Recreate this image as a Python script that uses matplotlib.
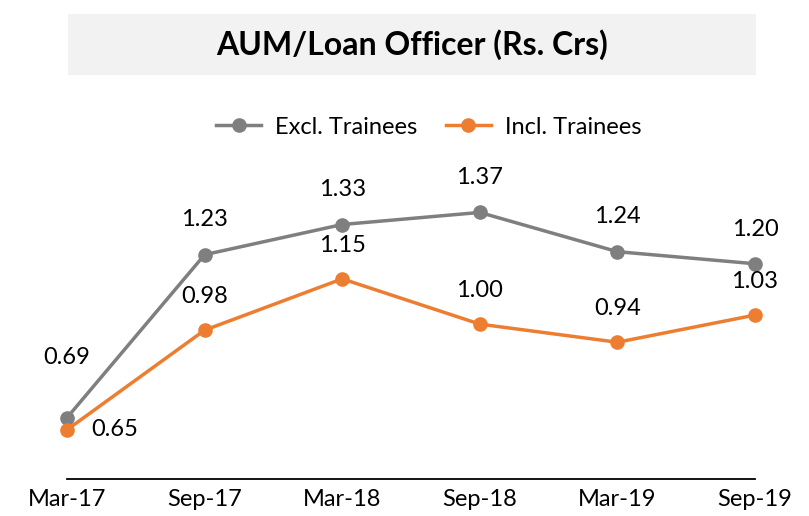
import matplotlib
matplotlib.use("Agg")
import matplotlib.pyplot as plt
from matplotlib.patches import Rectangle

plt.rcParams['font.family'] = ['Lato', 'DejaVu Sans']

categories = ["Mar-17", "Sep-17", "Mar-18", "Sep-18", "Mar-19", "Sep-19"]
excl = [0.69, 1.23, 1.33, 1.37, 1.24, 1.20]
incl = [0.65, 0.98, 1.15, 1.00, 0.94, 1.03]
title = "AUM/Loan Officer (Rs. Crs)"

W, H = 809, 516
fig = plt.figure(figsize=(W / 100, H / 100), dpi=100)

# title box
fig.patches.append(Rectangle((68 / W, 1 - 75 / H), (756 - 68) / W, (75 - 14) / H,
                             transform=fig.transFigure, facecolor="#F2F2F2",
                             edgecolor="none", zorder=0))
fig.text((68 + 756) / 2 / W, 1 - 45 / H, title, ha="center", va="center",
         fontsize=23, fontweight="bold", color="black")

left, right = 67 / W, 755 / W
bottom = 1 - 479 / H
top = 1 - 143 / H
ax = fig.add_axes([left, bottom, right - left, top - bottom])
ax.set_facecolor("none")

x = list(range(len(categories)))
gray = "#7F7F7F"
orange = "#ED7D31"
l1, = ax.plot(x, excl, color=gray, lw=2.5, marker="o", ms=9.5, label="Excl. Trainees",
              clip_on=False, zorder=3)
l2, = ax.plot(x, incl, color=orange, lw=2.5, marker="o", ms=9.5, label="Incl. Trainees",
              clip_on=False, zorder=4)

ax.set_xlim(0, 5)
ax.set_ylim(0.487, 1.6)
ax.set_xticks(x)
ax.set_xticklabels(categories, fontsize=17)
ax.tick_params(axis="x", length=0, pad=7)
ax.set_yticks([])
for s in ["top", "right", "left"]:
    ax.spines[s].set_visible(False)
ax.spines["bottom"].set_color("black")
ax.spines["bottom"].set_linewidth(1.3)

fs = 17
for i, v in enumerate(excl):
    dy = 43 if i == 0 else 25
    ax.annotate(f"{v:.2f}", (i, v), xytext=(0, dy), textcoords="offset points",
                ha="center", va="center", fontsize=fs)
for i, v in enumerate(incl):
    if i == 0:
        ax.annotate(f"{v:.2f}", (i, v), xytext=(34, 0), textcoords="offset points",
                    ha="center", va="center", fontsize=fs)
    else:
        ax.annotate(f"{v:.2f}", (i, v), xytext=(0, 24), textcoords="offset points",
                    ha="center", va="center", fontsize=fs)

fig.legend(handles=[l1, l2], loc="center", bbox_to_anchor=(429 / W, 1 - 127 / H),
           ncol=2, frameon=False, fontsize=17, handlelength=1.9, columnspacing=1.2,
           handletextpad=0.6)

fig.savefig("out.png", dpi=100)
